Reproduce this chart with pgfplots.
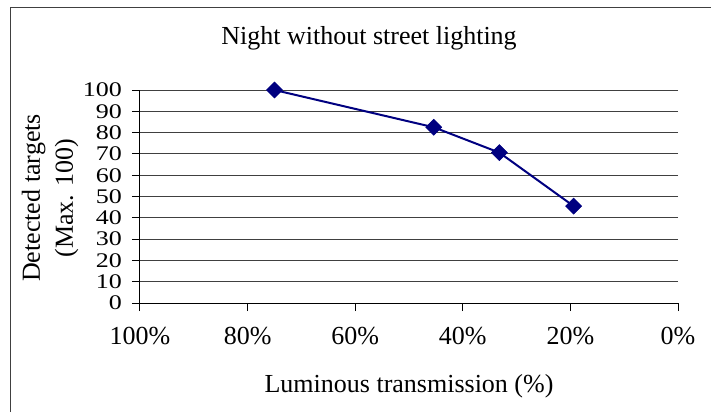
\documentclass[border=0pt]{standalone}
\usepackage{fontspec}
\setmainfont{Liberation Serif}
\usepackage{pgfplots}
\pgfplotsset{compat=1.18}
\definecolor{navyline}{RGB}{0,0,128}
\definecolor{frame}{RGB}{64,64,64}

\begin{document}
\fontsize{26pt}{30pt}\selectfont
\begin{tikzpicture}
% picture area in pixels of the reference (1px = 1pt), origin top left
\useasboundingbox (0pt,0pt) rectangle (711pt,-412pt);
\draw[frame, line width=1.5pt] (10.5pt,-412pt) -- (10.5pt,-7.5pt) -- (711pt,-7.5pt);

\begin{axis}[
    at={(140pt,-303pt)}, anchor=south west,
    scale only axis,
    width=538pt, height=213pt,
    xmin=0, xmax=100, ymin=0, ymax=100,
    x dir=reverse,
    axis x line*=bottom,
    axis y line*=left,
    axis line style={black, line width=1pt},
    xtick={0,20,...,100},
    ytick={0,10,...,100},
    xticklabel={\pgfmathprintnumber{\tick}\%},
    yticklabel={\scalebox{1}[0.8]{\pgfmathprintnumber{\tick}}},
    tick align=outside,
    major tick length=8pt,
    tick style={black, line width=1pt},
    ymajorgrids,
    grid style={black!75, line width=1pt},
    /pgf/number format/assume math mode=true,
    ticklabel style={font=\fontsize{26pt}{26pt}\selectfont},
    yticklabel style={inner sep=0pt, xshift=-10pt},
    xticklabel style={inner sep=0pt, yshift=-16pt},
    clip=false,
]
\addplot[navyline, line width=2pt, mark=square*,
    mark options={rotate=45, fill=navyline, line width=0.5pt},
    mark size=5.7pt] table {
x y
75 100
45.4 82.5
33.2 70.6
19.4 45.5
};
\end{axis}

\node[anchor=base, inner sep=0pt] at (369pt,-45pt) {Night without street lighting};
\node[anchor=base, inner sep=0pt] at (409pt,-392pt) {Luminous transmission (\%)};
\node[rotate=90, align=center, inner sep=0pt, font=\fontsize{26pt}{33pt}\selectfont]
    at (50pt,-198pt) {Detected targets\\(Max. 100)};
\end{tikzpicture}
\end{document}
